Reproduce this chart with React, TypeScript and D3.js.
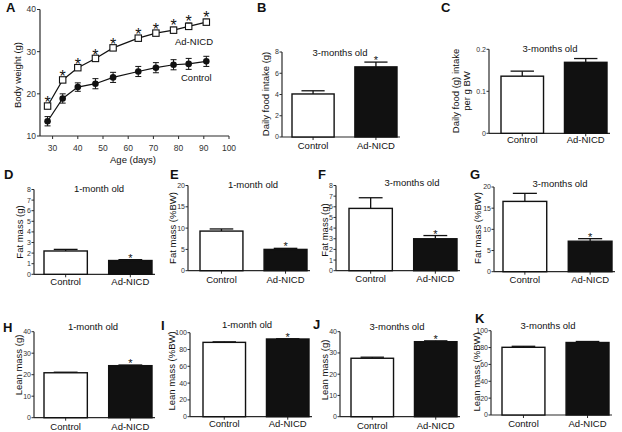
import React from "react";
import * as d3 from "d3";

// ---------- data ----------
const ages = [28, 34, 40, 47, 54, 64, 71, 78, 84, 91];
const nicdWeight = [17.1, 23.3, 26.2, 28.4, 30.9, 33.2, 34.4, 35.1, 36.0, 37.0];
const nicdWeightErr = [0.6, 0.5, 0.4, 0.4, 0.4, 0.5, 0.6, 0.7, 0.8, 0.7];
const ctrlWeight = [13.5, 18.9, 21.6, 22.4, 23.9, 25.3, 26.2, 26.9, 27.1, 27.7];
const ctrlWeightErr = [1.1, 1.1, 1.0, 1.2, 1.2, 1.2, 1.2, 1.2, 1.3, 1.2];
const ageTicks = [30, 40, 50, 60, 70, 80, 90, 100];
const weightTicks = [10, 20, 30, 40];

const categories = ["Control", "Ad-NICD"];
const foodIntake = [4.05, 6.6];
const foodIntakeErr = [0.3, 0.45];
const foodPerBW = [0.136, 0.169];
const foodPerBWErr = [0.012, 0.009];
const fatMass1m = [2.2, 1.3];
const fatMass1mErr = [0.15, 0.08];
const fatPct1m = [9.3, 5.0];
const fatPct1mErr = [0.5, 0.25];
const fatMass3m = [5.85, 3.0];
const fatMass3mErr = [1.0, 0.3];
const fatPct3m = [16.6, 7.2];
const fatPct3mErr = [1.9, 0.6];
const lean1m = [20.9, 24.2];
const lean1mErr = [0.25, 0.3];
const leanPct1m = [88.5, 92.5];
const leanPct1mErr = [0.6, 0.3];
const lean3m = [27.5, 35.3];
const lean3mErr = [0.5, 0.4];
const leanPct3m = [80.3, 86.0];
const leanPct3mErr = [1.2, 1.2];

const ticks0to8 = [0, 1, 2, 3, 4, 5, 6, 7, 8];
const ticks0to8by2 = [0, 2, 4, 6, 8];
const ticks0to02 = [0, 0.1, 0.2];
const ticks0to20 = [0, 5, 10, 15, 20];
const ticks0to40 = [0, 10, 20, 30, 40];
const ticks0to100 = [0, 20, 40, 60, 80, 100];

// ---------- style ----------
const FONT = "'Liberation Sans', Arial, Helvetica, sans-serif";
const INK = "#111";
const AXIS = "#2a2a2a";
const TICKC = "#333";

type BarCfg = {
  letter: string; letterX: number; letterY: number;
  axisX: number; barStart: number; barEnd: number;
  y0: number; yTopPx: number; yMax: number; ticks: number[];
  values: number[]; errors: number[]; stars: boolean[];
  title: string; titleX: number; titleY: number;
  ylabel: string[]; ylabelX: number; ylabelY: number;
  catY: number;
};

function BarPanel({ c }: { c: BarCfg }) {
  const x = d3.scaleBand<string>().domain(categories).range([c.barStart, c.barEnd]).paddingInner(0.33).paddingOuter(0);
  const y = d3.scaleLinear().domain([0, c.yMax]).range([c.y0, c.yTopPx]);
  const bw = x.bandwidth();
  const capW = bw * 0.55;
  return (
    <g>
      <text x={c.letterX} y={c.letterY} fontSize={13} fontWeight="bold" fill={INK}>{c.letter}</text>
      <text x={c.titleX} y={c.titleY} fontSize={9.5} textAnchor="middle" fill={INK}>{c.title}</text>
      {c.ylabel.map((l, i) => (
        <text key={i} transform={`translate(${c.ylabelX + i * 11},${c.ylabelY}) rotate(-90)`} fontSize={9.5} textAnchor="middle" dy="0.35em" fill={INK}>{l}</text>
      ))}
      {/* y axis */}
      <line x1={c.axisX} x2={c.axisX} y1={c.y0} y2={c.yTopPx} stroke={AXIS} strokeWidth={1.2} />
      {c.ticks.map((t) => (
        <g key={t}>
          <line x1={c.axisX - 2.5} x2={c.axisX} y1={y(t)} y2={y(t)} stroke={AXIS} strokeWidth={1} />
          <text x={c.axisX - 3} y={y(t)} dy="0.35em" fontSize={7} textAnchor="end" fill={TICKC}>{t}</text>
        </g>
      ))}
      {/* x axis */}
      <line x1={c.axisX} x2={c.barEnd + 3} y1={c.y0} y2={c.y0} stroke={AXIS} strokeWidth={1.2} />
      {categories.map((cat) => {
        const cx = (x(cat) as number) + bw / 2;
        return (
          <g key={cat}>
            <line x1={cx} x2={cx} y1={c.y0} y2={c.y0 + 3} stroke={AXIS} strokeWidth={1} />
            <text x={cx} y={c.catY} dy="0.35em" fontSize={9.5} textAnchor="middle" fill={INK}>{cat}</text>
          </g>
        );
      })}
      {/* bars */}
      {categories.map((cat, i) => {
        const bx = x(cat) as number;
        const cx = bx + bw / 2;
        const v = c.values[i];
        const e = c.errors[i];
        const top = y(v + e);
        return (
          <g key={cat}>
            <line x1={cx} x2={cx} y1={y(v)} y2={top} stroke={INK} strokeWidth={1.3} />
            <line x1={cx - capW / 2} x2={cx + capW / 2} y1={top} y2={top} stroke={INK} strokeWidth={1.3} />
            <rect x={bx} y={y(v)} width={bw} height={c.y0 - y(v)} fill={i === 0 ? "#fff" : "#111"} stroke={INK} strokeWidth={1.4} />
            {c.stars[i] && (
              <text x={cx} y={top + 2} fontSize={11} textAnchor="middle" fill={INK}>*</text>
            )}
          </g>
        );
      })}
    </g>
  );
}

const panels: BarCfg[] = [
  { letter: "B", letterX: 257, letterY: 12, axisX: 282, barStart: 292, barEnd: 397, y0: 137, yTopPx: 52, yMax: 8, ticks: ticks0to8by2,
    values: foodIntake, errors: foodIntakeErr, stars: [false, true], title: "3-months old", titleX: 340, titleY: 56,
    ylabel: ["Daily food intake (g)"], ylabelX: 266, ylabelY: 94, catY: 146 },
  { letter: "C", letterX: 441, letterY: 12, axisX: 489, barStart: 501, barEnd: 607, y0: 133.3, yTopPx: 49.3, yMax: 0.2, ticks: ticks0to02,
    values: foodPerBW, errors: foodPerBWErr, stars: [false, false], title: "3-months old", titleX: 550, titleY: 52,
    ylabel: ["Daily food (g) intake", "per g BW"], ylabelX: 456, ylabelY: 91, catY: 140 },
  { letter: "D", letterX: 4, letterY: 179, axisX: 34, barStart: 44, barEnd: 152, y0: 274.3, yTopPx: 189.5, yMax: 8, ticks: ticks0to8,
    values: fatMass1m, errors: fatMass1mErr, stars: [false, true], title: "1-month old", titleX: 99, titleY: 192,
    ylabel: ["Fat mass (g)"], ylabelX: 20, ylabelY: 232, catY: 282 },
  { letter: "E", letterX: 170, letterY: 179, axisX: 188, barStart: 200, barEnd: 307, y0: 270.7, yTopPx: 185.5, yMax: 20, ticks: ticks0to20,
    values: fatPct1m, errors: fatPct1mErr, stars: [false, true], title: "1-month old", titleX: 253, titleY: 188,
    ylabel: ["Fat mass (%BW)"], ylabelX: 173, ylabelY: 228, catY: 280 },
  { letter: "F", letterX: 318, letterY: 179, axisX: 336, barStart: 349, barEnd: 457, y0: 270.7, yTopPx: 185.5, yMax: 8, ticks: ticks0to8,
    values: fatMass3m, errors: fatMass3mErr, stars: [false, true], title: "3-months old", titleX: 412, titleY: 186,
    ylabel: ["Fat mass (g)"], ylabelX: 325, ylabelY: 230, catY: 279 },
  { letter: "G", letterX: 470, letterY: 179, axisX: 494, barStart: 503, barEnd: 612, y0: 271.7, yTopPx: 187, yMax: 20, ticks: ticks0to20,
    values: fatPct3m, errors: fatPct3mErr, stars: [false, true], title: "3-months old", titleX: 560, titleY: 187,
    ylabel: ["Fat mass (%BW)"], ylabelX: 478, ylabelY: 228, catY: 280 },
  { letter: "H", letterX: 3, letterY: 332, axisX: 34, barStart: 44, barEnd: 152, y0: 417.7, yTopPx: 331.7, yMax: 40, ticks: ticks0to40,
    values: lean1m, errors: lean1mErr, stars: [false, true], title: "1-month old", titleX: 93, titleY: 330,
    ylabel: ["Lean mass (g)"], ylabelX: 19, ylabelY: 365, catY: 427 },
  { letter: "I", letterX: 161, letterY: 330, axisX: 190, barStart: 203, barEnd: 309, y0: 416.7, yTopPx: 332.7, yMax: 100, ticks: ticks0to100,
    values: leanPct1m, errors: leanPct1mErr, stars: [false, true], title: "1-month old", titleX: 247, titleY: 328,
    ylabel: ["Lean mass (%BW)"], ylabelX: 172, ylabelY: 371, catY: 424 },
  { letter: "J", letterX: 313, letterY: 329, axisX: 340, barStart: 351, barEnd: 457, y0: 416.7, yTopPx: 331.7, yMax: 40, ticks: ticks0to40,
    values: lean3m, errors: lean3mErr, stars: [false, true], title: "3-months old", titleX: 397, titleY: 330,
    ylabel: ["Lean mass (g)"], ylabelX: 325, ylabelY: 370, catY: 425.7 },
  { letter: "K", letterX: 475, letterY: 323, axisX: 491, barStart: 502, barEnd: 609, y0: 415, yTopPx: 330.7, yMax: 100, ticks: ticks0to100,
    values: leanPct3m, errors: leanPct3mErr, stars: [false, false], title: "3-months old", titleX: 548, titleY: 329,
    ylabel: ["Lean mass (%BW)"], ylabelX: 477, ylabelY: 372, catY: 424 },
];

function PanelA() {
  const x = d3.scaleLinear().domain([25, 100]).range([40, 229]);
  const y = d3.scaleLinear().domain([10, 40]).range([136, 9.5]);
  const line = d3.line<number>().x((_, i) => x(ages[i])).y((d) => y(d));
  return (
    <g>
      <text x={6} y={12} fontSize={13} fontWeight="bold" fill={INK}>A</text>
      <line x1={x(25)} x2={x(25)} y1={y(10)} y2={y(40)} stroke={AXIS} strokeWidth={1.2} />
      <line x1={x(25)} x2={x(100)} y1={y(10)} y2={y(10)} stroke={AXIS} strokeWidth={1.2} />
      {weightTicks.map((t) => (
        <g key={t}>
          <line x1={x(25) - 3} x2={x(25)} y1={y(t)} y2={y(t)} stroke={AXIS} />
          <text x={x(25) - 4} y={y(t)} dy="0.35em" fontSize={8.5} textAnchor="end" fill={TICKC}>{t}</text>
        </g>
      ))}
      {ageTicks.map((t) => (
        <g key={t}>
          <line x1={x(t)} x2={x(t)} y1={y(10)} y2={y(10) + 3} stroke={AXIS} />
          <text x={x(t)} y={y(10) + 12} dy="0.35em" fontSize={8.5} textAnchor="middle" fill={TICKC}>{t}</text>
        </g>
      ))}
      <text x={133} y={160} dy="0.35em" fontSize={9.5} textAnchor="middle" fill={INK}>Age (days)</text>
      <text transform={`translate(18,75) rotate(-90)`} dy="0.35em" fontSize={9.5} textAnchor="middle" fill={INK}>Body weight (g)</text>
      {/* control */}
      <path d={line(ctrlWeight) || ""} fill="none" stroke={INK} strokeWidth={1.2} />
      {ctrlWeight.map((v, i) => {
        const cx = x(ages[i]);
        const e = ctrlWeightErr[i];
        return (
          <g key={i}>
            <line x1={cx} x2={cx} y1={y(v - e)} y2={y(v + e)} stroke={INK} strokeWidth={1} />
            <line x1={cx - 3} x2={cx + 3} y1={y(v - e)} y2={y(v - e)} stroke={INK} strokeWidth={1} />
            <line x1={cx - 3} x2={cx + 3} y1={y(v + e)} y2={y(v + e)} stroke={INK} strokeWidth={1} />
            <circle cx={cx} cy={y(v)} r={3.3} fill={INK} />
          </g>
        );
      })}
      {/* Ad-NICD */}
      <path d={line(nicdWeight) || ""} fill="none" stroke={INK} strokeWidth={1.2} />
      {nicdWeight.map((v, i) => {
        const cx = x(ages[i]);
        const e = nicdWeightErr[i];
        return (
          <g key={i}>
            <line x1={cx} x2={cx} y1={y(v - e)} y2={y(v + e)} stroke={INK} strokeWidth={1} />
            <line x1={cx - 3} x2={cx + 3} y1={y(v + e)} y2={y(v + e)} stroke={INK} strokeWidth={1} />
            <rect x={cx - 3.2} y={y(v) - 3.2} width={6.4} height={6.4} fill="#fff" stroke={INK} strokeWidth={1.1} />
            <text x={cx} y={y(v + e) + 4} fontSize={16} textAnchor="middle" fill={INK}>*</text>
          </g>
        );
      })}
      <text x={175} y={42} dy="0.35em" fontSize={9.5} fill={INK}>Ad-NICD</text>
      <text x={181} y={78} dy="0.35em" fontSize={9.5} fill={INK}>Control</text>
    </g>
  );
}

export default function App() {
  return (
    <svg width={622} height={432} style={{ position: "absolute", left: 0, top: 0, background: "#fff" }} fontFamily={FONT}>
      <rect width={622} height={432} fill="#fff" />
      <PanelA />
      {panels.map((p) => <BarPanel key={p.letter} c={p} />)}
    </svg>
  );
}
